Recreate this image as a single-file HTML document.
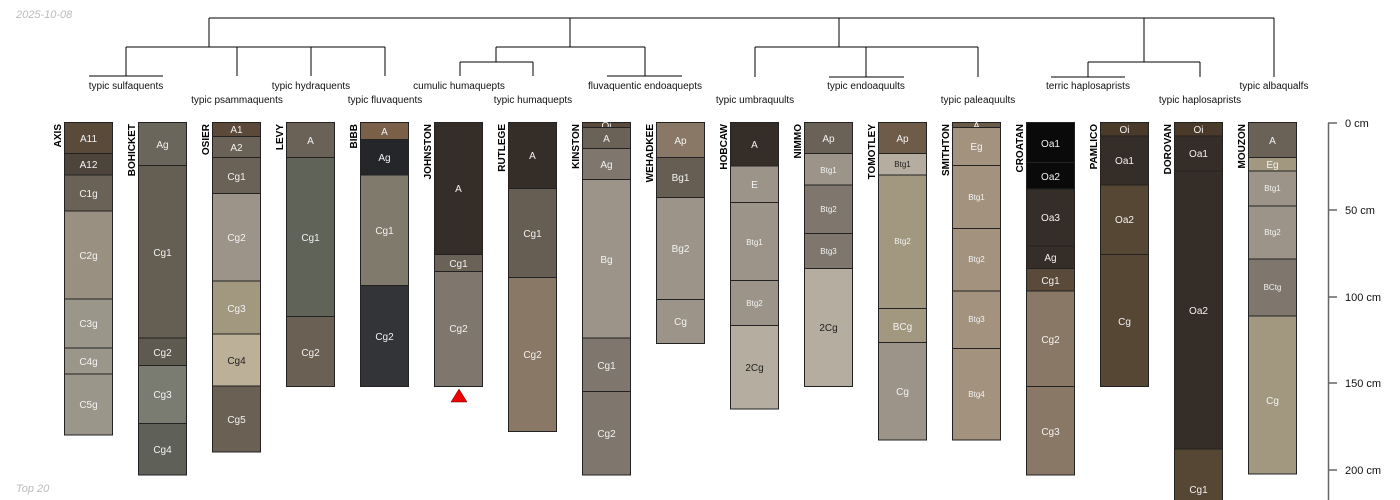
<!DOCTYPE html>
<html><head><meta charset="utf-8"><style>
html,body{margin:0;padding:0;background:#fff;}
svg{display:block;}
.h{font-family:"Liberation Sans",sans-serif;font-size:10px;fill:#f2f2f2;text-anchor:middle;}
.s{font-size:8px;}
.d{fill:#222;}
.n{font-family:"Liberation Sans",sans-serif;font-size:10px;font-weight:bold;fill:#000;text-anchor:end;}
.t{font-family:"Liberation Sans",sans-serif;font-size:10px;fill:#111;text-anchor:middle;}
.sc{font-family:"Liberation Sans",sans-serif;font-size:11px;fill:#111;}
.g{font-family:"Liberation Sans",sans-serif;font-size:11px;font-style:italic;fill:#bbb;}
rect{stroke:#222;stroke-width:1;}
</style></head><body>
<svg width="1400" height="500" viewBox="0 0 1400 500" xmlns="http://www.w3.org/2000/svg">
<text class="g" x="16" y="18">2025-10-08</text>
<text class="g" x="16" y="492">Top 20</text>

<!-- dendrogram -->
<g stroke="#000" stroke-width="1" fill="none">
<path d="M209 18H1274M209 18V47M126 47H385M126 47V76M89 76H163M237 47V76M311 47V76M385 47V76"/>
<path d="M570 18V47M496 47H645M496 47V62M460 62H533M460 62V76M533 62V76M645 47V76M607 76H682"/>
<path d="M839 18V47M755 47H978M755 47V77M866 47V77M829 77H904M978 47V77"/>
<path d="M1144 18V62M1088 62H1200M1088 62V77M1051 77H1125M1200 62V77M1274 18V77"/>
</g>
<text class="t" x="126" y="89">typic sulfaquents</text>
<text class="t" x="237" y="103">typic psammaquents</text>
<text class="t" x="311" y="89">typic hydraquents</text>
<text class="t" x="385" y="103">typic fluvaquents</text>
<text class="t" x="459" y="89">cumulic humaquepts</text>
<text class="t" x="533" y="103">typic humaquepts</text>
<text class="t" x="645" y="89">fluvaquentic endoaquepts</text>
<text class="t" x="755" y="103">typic umbraquults</text>
<text class="t" x="866" y="89">typic endoaquults</text>
<text class="t" x="978" y="103">typic paleaquults</text>
<text class="t" x="1088" y="89">terric haplosaprists</text>
<text class="t" x="1200" y="103">typic haplosaprists</text>
<text class="t" x="1274" y="89">typic albaqualfs</text>

<!-- names -->
<g>
<text class="n" transform="translate(61,124) rotate(-90)">AXIS</text>
<text class="n" transform="translate(135,124) rotate(-90)">BOHICKET</text>
<text class="n" transform="translate(209,124) rotate(-90)">OSIER</text>
<text class="n" transform="translate(283,124) rotate(-90)">LEVY</text>
<text class="n" transform="translate(357,124) rotate(-90)">BIBB</text>
<text class="n" transform="translate(431,124) rotate(-90)">JOHNSTON</text>
<text class="n" transform="translate(505,124) rotate(-90)">RUTLEGE</text>
<text class="n" transform="translate(579,124) rotate(-90)">KINSTON</text>
<text class="n" transform="translate(653,124) rotate(-90)">WEHADKEE</text>
<text class="n" transform="translate(727,124) rotate(-90)">HOBCAW</text>
<text class="n" transform="translate(801,124) rotate(-90)">NIMMO</text>
<text class="n" transform="translate(875,124) rotate(-90)">TOMOTLEY</text>
<text class="n" transform="translate(949,124) rotate(-90)">SMITHTON</text>
<text class="n" transform="translate(1023,124) rotate(-90)">CROATAN</text>
<text class="n" transform="translate(1097,124) rotate(-90)">PAMLICO</text>
<text class="n" transform="translate(1171,124) rotate(-90)">DOROVAN</text>
<text class="n" transform="translate(1245,124) rotate(-90)">MOUZON</text>
</g>

<!-- AXIS -->
<rect x="64.5" y="122.5" width="48" height="31" fill="#5a4a3a"/><text class="h" x="88.5" y="142">A11</text>
<rect x="64.5" y="153.5" width="48" height="21.5" fill="#4d443b"/><text class="h" x="88.5" y="168">A12</text>
<rect x="64.5" y="175" width="48" height="36" fill="#6a6256"/><text class="h" x="88.5" y="197">C1g</text>
<rect x="64.5" y="211" width="48" height="88" fill="#9a9082"/><text class="h" x="88.5" y="259">C2g</text>
<rect x="64.5" y="299" width="48" height="49" fill="#9a978a"/><text class="h" x="88.5" y="327">C3g</text>
<rect x="64.5" y="348" width="48" height="26" fill="#9a978a"/><text class="h" x="88.5" y="365">C4g</text>
<rect x="64.5" y="374" width="48" height="61" fill="#9a968a"/><text class="h" x="88.5" y="408">C5g</text>
<!-- BOHICKET -->
<rect x="138.5" y="122.5" width="48" height="43" fill="#6a665b"/><text class="h" x="162.5" y="148">Ag</text>
<rect x="138.5" y="165.5" width="48" height="172.5" fill="#655f53"/><text class="h" x="162.5" y="256">Cg1</text>
<rect x="138.5" y="338" width="48" height="27.5" fill="#5e5a50"/><text class="h" x="162.5" y="356">Cg2</text>
<rect x="138.5" y="365.5" width="48" height="58" fill="#7a7c72"/><text class="h" x="162.5" y="398">Cg3</text>
<rect x="138.5" y="423.5" width="48" height="51.5" fill="#5f6158"/><text class="h" x="162.5" y="453">Cg4</text>
<!-- OSIER -->
<rect x="212.5" y="122.5" width="48" height="14" fill="#5b4a3a"/><text class="h" x="236.5" y="133">A1</text>
<rect x="212.5" y="136.5" width="48" height="21" fill="#6a6257"/><text class="h" x="236.5" y="151">A2</text>
<rect x="212.5" y="157.5" width="48" height="36" fill="#6a6256"/><text class="h" x="236.5" y="180">Cg1</text>
<rect x="212.5" y="193.5" width="48" height="87.5" fill="#9c9488"/><text class="h" x="236.5" y="241">Cg2</text>
<rect x="212.5" y="281" width="48" height="53" fill="#a29880"/><text class="h" x="236.5" y="312">Cg3</text>
<rect x="212.5" y="334" width="48" height="52" fill="#bcb098"/><text class="h d" x="236.5" y="364">Cg4</text>
<rect x="212.5" y="386" width="48" height="66" fill="#6a6054"/><text class="h" x="236.5" y="423">Cg5</text>
<!-- LEVY -->
<rect x="286.5" y="122.5" width="48" height="35" fill="#6a6257"/><text class="h" x="310.5" y="144">A</text>
<rect x="286.5" y="157.5" width="48" height="159" fill="#5f6358"/><text class="h" x="310.5" y="241">Cg1</text>
<rect x="286.5" y="316.5" width="48" height="70" fill="#6a6054"/><text class="h" x="310.5" y="356">Cg2</text>
<!-- BIBB -->
<rect x="360.5" y="122.5" width="48" height="17" fill="#7a6048"/><text class="h" x="384.5" y="135">A</text>
<rect x="360.5" y="139.5" width="48" height="35.5" fill="#25262a"/><text class="h" x="384.5" y="161">Ag</text>
<rect x="360.5" y="175" width="48" height="110.5" fill="#7f7a6c"/><text class="h" x="384.5" y="234">Cg1</text>
<rect x="360.5" y="285.5" width="48" height="101" fill="#333438"/><text class="h" x="384.5" y="340">Cg2</text>
<!-- JOHNSTON -->
<rect x="434.5" y="122.5" width="48" height="132" fill="#352d27"/><text class="h" x="458.5" y="192">A</text>
<rect x="434.5" y="254.5" width="48" height="17" fill="#6a6257"/><text class="h" x="458.5" y="267">Cg1</text>
<rect x="434.5" y="271.5" width="48" height="115" fill="#7f776e"/><text class="h" x="458.5" y="332">Cg2</text>
<polygon points="459,389 451,402 467,402" fill="#e00" stroke="#600" stroke-width="0.5"/>
<!-- RUTLEGE -->
<rect x="508.5" y="122.5" width="48" height="66" fill="#352d27"/><text class="h" x="532.5" y="159">A</text>
<rect x="508.5" y="188.5" width="48" height="89" fill="#665e52"/><text class="h" x="532.5" y="237">Cg1</text>
<rect x="508.5" y="277.5" width="48" height="154" fill="#8a7866"/><text class="h" x="532.5" y="358">Cg2</text>
<!-- KINSTON -->
<rect x="582.5" y="122.5" width="48" height="5" fill="#5a4a3a"/><text class="h" x="606.5" y="129">Oi</text>
<rect x="582.5" y="127.5" width="48" height="21" fill="#6a6257"/><text class="h" x="606.5" y="142">A</text>
<rect x="582.5" y="148.5" width="48" height="31" fill="#7f776e"/><text class="h" x="606.5" y="168">Ag</text>
<rect x="582.5" y="179.5" width="48" height="158.5" fill="#9c9488"/><text class="h" x="606.5" y="263">Bg</text>
<rect x="582.5" y="338" width="48" height="53.5" fill="#7f776e"/><text class="h" x="606.5" y="369">Cg1</text>
<rect x="582.5" y="391.5" width="48" height="83.5" fill="#7f776e"/><text class="h" x="606.5" y="437">Cg2</text>
<!-- WEHADKEE -->
<rect x="656.5" y="122.5" width="48" height="35" fill="#8a7866"/><text class="h" x="680.5" y="144">Ap</text>
<rect x="656.5" y="157.5" width="48" height="40" fill="#665e52"/><text class="h" x="680.5" y="181">Bg1</text>
<rect x="656.5" y="197.5" width="48" height="102" fill="#9c9488"/><text class="h" x="680.5" y="252">Bg2</text>
<rect x="656.5" y="299.5" width="48" height="44" fill="#9c9488"/><text class="h" x="680.5" y="325">Cg</text>
<!-- HOBCAW -->
<rect x="730.5" y="122.5" width="48" height="43.5" fill="#352d27"/><text class="h" x="754.5" y="148">A</text>
<rect x="730.5" y="166" width="48" height="36.5" fill="#9c9488"/><text class="h" x="754.5" y="188">E</text>
<rect x="730.5" y="202.5" width="48" height="78" fill="#9c9488"/><text class="h s" x="754.5" y="245">Btg1</text>
<rect x="730.5" y="280.5" width="48" height="45" fill="#9c9488"/><text class="h s" x="754.5" y="306">Btg2</text>
<rect x="730.5" y="325.5" width="48" height="83.5" fill="#b5ada0"/><text class="h d" x="754.5" y="371">2Cg</text>
<!-- NIMMO -->
<rect x="804.5" y="122.5" width="48" height="31" fill="#6a6257"/><text class="h" x="828.5" y="142">Ap</text>
<rect x="804.5" y="153.5" width="48" height="31.5" fill="#9c9488"/><text class="h s" x="828.5" y="173">Btg1</text>
<rect x="804.5" y="185" width="48" height="48.5" fill="#7f776e"/><text class="h s" x="828.5" y="212">Btg2</text>
<rect x="804.5" y="233.5" width="48" height="35" fill="#7f776e"/><text class="h s" x="828.5" y="254">Btg3</text>
<rect x="804.5" y="268.5" width="48" height="118" fill="#b5ada0"/><text class="h d" x="828.5" y="331">2Cg</text>
<!-- TOMOTLEY -->
<rect x="878.5" y="122.5" width="48" height="31" fill="#6e5c48"/><text class="h" x="902.5" y="142">Ap</text>
<rect x="878.5" y="153.5" width="48" height="21.5" fill="#b5ada0"/><text class="h s d" x="902.5" y="167">Btg1</text>
<rect x="878.5" y="175" width="48" height="133.5" fill="#a29880"/><text class="h s" x="902.5" y="244">Btg2</text>
<rect x="878.5" y="308.5" width="48" height="34" fill="#a29880"/><text class="h" x="902.5" y="330">BCg</text>
<rect x="878.5" y="342.5" width="48" height="97.5" fill="#9c9488"/><text class="h" x="902.5" y="395">Cg</text>
<!-- SMITHTON -->
<rect x="952.5" y="122.5" width="48" height="5" fill="#6a5a48"/><text class="h" x="976.5" y="129">A</text>
<rect x="952.5" y="127.5" width="48" height="38" fill="#a2927e"/><text class="h" x="976.5" y="150">Eg</text>
<rect x="952.5" y="165.5" width="48" height="63" fill="#a2927e"/><text class="h s" x="976.5" y="200">Btg1</text>
<rect x="952.5" y="228.5" width="48" height="62.5" fill="#a2927e"/><text class="h s" x="976.5" y="262">Btg2</text>
<rect x="952.5" y="291" width="48" height="57.5" fill="#a2927e"/><text class="h s" x="976.5" y="322">Btg3</text>
<rect x="952.5" y="348.5" width="48" height="91.5" fill="#a2927e"/><text class="h s" x="976.5" y="397">Btg4</text>
<!-- CROATAN -->
<rect x="1026.5" y="122.5" width="48" height="40" fill="#0a0a0a" stroke="#0a0a0a"/><text class="h" x="1050.5" y="147">Oa1</text>
<rect x="1026.5" y="162.5" width="48" height="26.5" fill="#0a0a0a" stroke="#0a0a0a"/><text class="h" x="1050.5" y="180">Oa2</text>
<rect x="1026.5" y="189" width="48" height="57" fill="#352d27"/><text class="h" x="1050.5" y="221">Oa3</text>
<rect x="1026.5" y="246" width="48" height="22.5" fill="#352d27"/><text class="h" x="1050.5" y="261">Ag</text>
<rect x="1026.5" y="268.5" width="48" height="22.5" fill="#5a4a3a"/><text class="h" x="1050.5" y="284">Cg1</text>
<rect x="1026.5" y="291" width="48" height="95.5" fill="#8a7866"/><text class="h" x="1050.5" y="343">Cg2</text>
<rect x="1026.5" y="386.5" width="48" height="88.5" fill="#8a7866"/><text class="h" x="1050.5" y="435">Cg3</text>
<!-- PAMLICO -->
<rect x="1100.5" y="122.5" width="48" height="13.5" fill="#4a3a2a"/><text class="h" x="1124.5" y="133">Oi</text>
<rect x="1100.5" y="136" width="48" height="49" fill="#352d27"/><text class="h" x="1124.5" y="164">Oa1</text>
<rect x="1100.5" y="185" width="48" height="69.5" fill="#564634"/><text class="h" x="1124.5" y="223">Oa2</text>
<rect x="1100.5" y="254.5" width="48" height="132" fill="#564634"/><text class="h" x="1124.5" y="325">Cg</text>
<!-- DOROVAN -->
<rect x="1174.5" y="122.5" width="48" height="13.5" fill="#4a3a2a"/><text class="h" x="1198.5" y="133">Oi</text>
<rect x="1174.5" y="136" width="48" height="35" fill="#352d27"/><text class="h" x="1198.5" y="157">Oa1</text>
<rect x="1174.5" y="171" width="48" height="278" fill="#352d27"/><text class="h" x="1198.5" y="314">Oa2</text>
<rect x="1174.5" y="449" width="48" height="60" fill="#564634"/><text class="h" x="1198.5" y="493">Cg1</text>
<!-- MOUZON -->
<rect x="1248.5" y="122.5" width="48" height="35" fill="#6a6257"/><text class="h" x="1272.5" y="144">A</text>
<rect x="1248.5" y="157.5" width="48" height="13.5" fill="#a29880"/><text class="h" x="1272.5" y="168">Eg</text>
<rect x="1248.5" y="171" width="48" height="35" fill="#9c9488"/><text class="h s" x="1272.5" y="191">Btg1</text>
<rect x="1248.5" y="206" width="48" height="53" fill="#9c9488"/><text class="h s" x="1272.5" y="235">Btg2</text>
<rect x="1248.5" y="259" width="48" height="57" fill="#7f776e"/><text class="h s" x="1272.5" y="290">BCtg</text>
<rect x="1248.5" y="316" width="48" height="158" fill="#a29880"/><text class="h" x="1272.5" y="404">Cg</text>

<!-- depth scale -->
<g stroke="#666" stroke-width="1.5" fill="none">
<path d="M1328.5 123V500M1328 123H1337M1328 210H1337M1328 297H1337M1328 383H1337M1328 470H1337"/>
</g>
<text class="sc" x="1345" y="127">0 cm</text>
<text class="sc" x="1345" y="214">50 cm</text>
<text class="sc" x="1345" y="301">100 cm</text>
<text class="sc" x="1345" y="387">150 cm</text>
<text class="sc" x="1345" y="474">200 cm</text>
</svg>
</body></html>
